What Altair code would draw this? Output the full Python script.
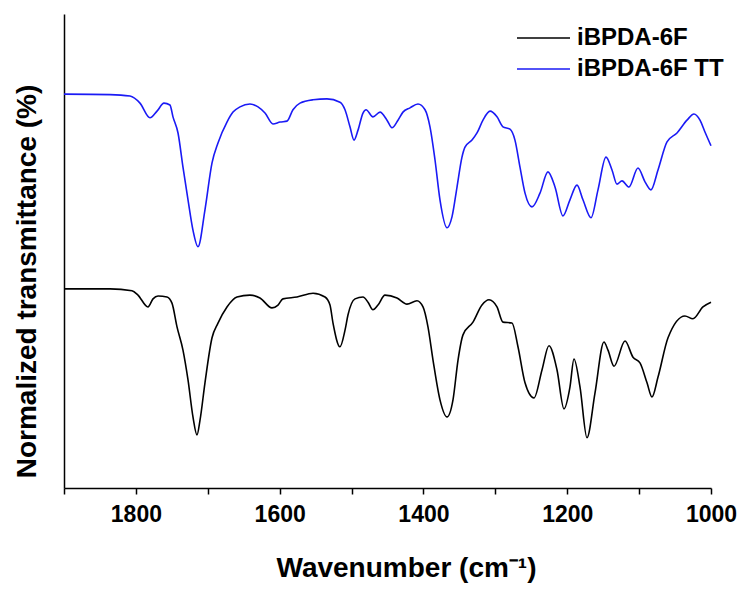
import altair as alt
import pandas as pd

series_names = ["iBPDA-6F", "iBPDA-6F TT"]
series_colors = ["#000000", "#1a1af5"]

wn_black = [1900, 1836.0, 1805.4, 1797.1, 1783.2, 1776.2, 1769.2, 1756.7, 1749.8, 1742.8,
            1734.5, 1727.5, 1720.6, 1715.0, 1710.8, 1703.9, 1694.1, 1685.8, 1673.3, 1659.4,
            1641.3, 1627.4, 1610.7, 1602.3, 1595.4, 1575.9, 1553.6, 1536.9, 1530.0, 1525.8,
            1516.1, 1509.1, 1505.0, 1495.2, 1484.1, 1477.1, 1470.2, 1463.2, 1453.5, 1436.8,
            1422.9, 1409.0, 1400.6, 1393.7, 1386.7, 1377.0, 1367.2, 1358.9, 1351.9, 1345.0,
            1331.1, 1318.6, 1308.8, 1297.7, 1289.4, 1276.8, 1268.5, 1258.7, 1246.2, 1235.1,
            1225.4, 1214.2, 1204.5, 1196.2, 1190.6, 1182.2, 1172.5, 1161.4, 1148.9, 1143.3,
            1134.9, 1119.6, 1108.5, 1098.8, 1089.0, 1082.1, 1073.7, 1059.8, 1036.2, 1025.1,
            1011.2, 1000]
t_black = [42.0, 42.0, 41.6, 40.7, 38.2, 39.9, 40.5, 40.3, 39.0, 34.0,
           29.1, 22.8, 15.0, 11.2, 14.3, 22.2, 31.7, 34.8, 38.2, 40.3,
           40.7, 40.1, 38.0, 38.6, 39.9, 40.3, 41.1, 40.3, 38.6, 34.8,
           29.8, 33.3, 36.5, 39.9, 40.3, 39.2, 37.6, 38.6, 40.7, 40.1,
           38.8, 39.5, 38.2, 34.0, 27.0, 18.6, 15.0, 18.6, 27.0, 32.3,
           35.0, 38.6, 39.7, 38.2, 35.0, 34.8, 29.8, 22.2, 19.0, 24.9,
           30.0, 24.9, 16.7, 21.3, 27.2, 21.3, 10.6, 20.0, 30.8, 29.1,
           25.7, 31.0, 27.6, 26.4, 22.2, 19.2, 23.4, 31.7, 36.3, 35.7,
           38.2, 39.2]

wn_blue = [1900, 1836.0, 1808.2, 1794.3, 1780.4, 1770.6, 1760.9, 1752.6, 1748.4, 1741.4,
           1734.5, 1727.5, 1720.6, 1713.6, 1703.9, 1694.1, 1685.8, 1673.3, 1664.9, 1655.2,
           1641.3, 1630.1, 1620.4, 1609.3, 1599.5, 1589.8, 1581.5, 1571.7, 1553.6, 1534.2,
           1516.1, 1509.1, 1502.2, 1496.6, 1491.0, 1484.1, 1479.9, 1470.2, 1460.4, 1450.7,
           1443.8, 1435.4, 1428.5, 1418.7, 1407.6, 1397.8, 1390.9, 1383.9, 1377.0, 1367.2,
           1360.3, 1353.3, 1346.4, 1342.2, 1332.5, 1325.5, 1317.2, 1307.4, 1297.7, 1289.4,
           1279.6, 1272.7, 1265.7, 1258.7, 1249.0, 1237.9, 1226.8, 1217.0, 1205.9, 1196.2,
           1186.4, 1178.1, 1166.9, 1157.2, 1146.1, 1137.7, 1130.8, 1123.8, 1114.1, 1101.6,
           1091.8, 1083.5, 1073.7, 1061.2, 1047.3, 1033.4, 1023.7, 1015.3, 1008.4, 1000]
t_blue = [83.1, 83.0, 82.7, 81.2, 78.1, 79.5, 81.2, 80.8, 78.3, 74.9,
          67.7, 60.8, 54.4, 50.9, 58.7, 68.6, 72.8, 77.2, 79.3, 80.4,
          81.0, 80.4, 79.1, 76.8, 77.2, 77.4, 79.8, 81.2, 81.9, 82.1,
          81.4, 79.8, 76.2, 73.4, 75.5, 79.1, 79.8, 78.3, 79.3, 77.6,
          76.0, 77.6, 79.3, 80.2, 81.0, 79.8, 76.2, 69.2, 60.8, 54.9,
          57.2, 63.5, 69.8, 71.9, 73.4, 74.9, 77.6, 79.5, 78.3, 76.2,
          75.7, 73.4, 67.7, 62.2, 59.3, 62.2, 66.7, 63.5, 57.4, 60.8,
          63.9, 60.8, 57.0, 62.9, 69.8, 67.1, 64.1, 64.8, 63.5, 67.5,
          64.6, 62.9, 67.1, 73.0, 74.9, 77.6, 78.9, 77.6, 75.1, 72.2]

x_tick_values = [1900, 1800, 1700, 1600, 1500, 1400, 1300, 1200, 1100, 1000]

df = pd.concat([
    pd.DataFrame({"series": series_names[0], "wn": wn_black, "T": t_black}),
    pd.DataFrame({"series": series_names[1], "wn": wn_blue, "T": t_blue}),
])
df_leg = pd.DataFrame({"series": series_names})

FONT = "Liberation Sans"
color = alt.Color("series:N", scale=alt.Scale(domain=series_names, range=series_colors), legend=None)

lines = alt.Chart(df).mark_line(interpolate="monotone", strokeWidth=1.6).encode(
    x=alt.X("wn:Q",
            scale=alt.Scale(domain=[1000, 1900], reverse=True, nice=False, zero=False),
            axis=alt.Axis(values=x_tick_values, format="d",
                          labelExpr="datum.value % 200 == 0 ? datum.label : ''",
                          labelOverlap=False, labelFlush=False,
                          title="Wavenumber (cm⁻¹)",
                          titleX=342, titleY=88, titleBaseline="alphabetic",
                          titleFontSize=28, titleFont=FONT, titleFontWeight="bold",
                          labelFont=FONT, labelFontSize=23, labelFontWeight="bold",
                          labelPadding=9, tickSize=6, tickWidth=1.5, domainWidth=1.5,
                          tickColor="black", domainColor="black", labelColor="black",
                          titleColor="black", grid=False)),
    y=alt.Y("T:Q", scale=alt.Scale(domain=[0, 100], nice=False, zero=False),
            axis=alt.Axis(labels=False, ticks=False, grid=False,
                          title="Normalized transmittance (%)",
                          titleX=-29, titleY=267, titleAngle=270,
                          titleAlign="center", titleBaseline="alphabetic",
                          titleFontSize=28, titleFont=FONT, titleFontWeight="bold",
                          titleColor="black", domainColor="black", domainWidth=1.5)),
    color=color,
    order=alt.Order("wn:Q"),
)

leg_y = alt.Y("series:N", scale=alt.Scale(type="point", domain=series_names, range=[24, 55], padding=0), axis=None)
leg_rule = alt.Chart(df_leg).mark_rule(strokeWidth=1.6).encode(
    x=alt.value(453), x2=alt.value(506), y=leg_y, color=color)
leg_text = alt.Chart(df_leg).mark_text(align="left", baseline="middle", font=FONT,
                                        fontSize=24, fontWeight="bold", color="black").encode(
    x=alt.value(513), y=leg_y, text="series:N")

chart = alt.layer(lines, leg_rule, leg_text).resolve_scale(y="independent").properties(
    width=647, height=474,
    autosize=alt.AutoSizeParams(type="none"),
    padding={"left": 64, "top": 14, "right": 29, "bottom": 103},
).configure_view(stroke=None)

chart.save("out.html", embed_options={"renderer": "svg", "actions": False})
